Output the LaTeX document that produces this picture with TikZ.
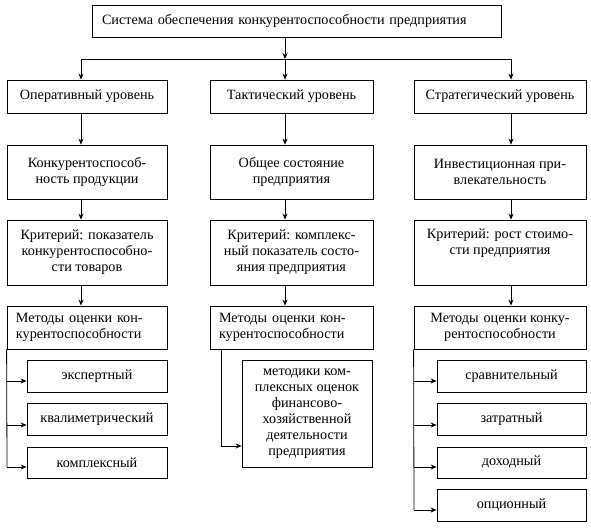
\documentclass[tikz,border=0pt]{standalone}
\usepackage{fontspec}
\setmainfont{Liberation Serif}
\usetikzlibrary{arrows.meta}
\begin{document}
\begin{tikzpicture}[x=1pt,y=-1pt,
  box/.style={draw,line width=0.8pt,inner sep=0pt,align=center,font=\rmfamily\fontsize{14.2}{16}\selectfont},
  arr/.style={line width=0.8pt,-{Stealth[length=6pt,width=5pt]}},
  ln/.style={line width=0.8pt}]
\useasboundingbox (0,0) rectangle (591,530);
% top
\node[box,minimum width=409pt,minimum height=32pt,align=left,text width=389pt,inner xsep=10pt] (top) at (296.5,21) {Система обеспечения конкурентоспособности предприятия};
% level row
\node[box,minimum width=160pt,minimum height=33pt] (op1) at (87,96.5) {Оперативный уровень};
\node[box,minimum width=163pt,minimum height=33pt] (ta1) at (291.5,96.5) {Тактический уровень};
\node[box,minimum width=172pt,minimum height=33pt] (st1) at (500,96.5) {Стратегический уровень};
% row 2
\node[box,minimum width=160pt,minimum height=54pt] (op2) at (87,172) {Конкурентоспособ-\\ность продукции};
\node[box,minimum width=163pt,minimum height=54pt] (ta2) at (291.5,172) {Общее состояние\\предприятия};
\node[box,minimum width=172pt,minimum height=54pt] (st2) at (500,172) {Инвестиционная при-\\влекательность};
% row 3
\node[box,minimum width=160pt,minimum height=65pt] (op3) at (87,252.5) {Критерий: показатель\\конкурентоспособно-\\сти товаров};
\node[box,minimum width=163pt,minimum height=65pt] (ta3) at (291.5,252.5) {Критерий: комплекс-\\ный показатель состо-\\яния предприятия};
\node[box,minimum width=172pt,minimum height=65pt] (st3) at (500,252.5) {Критерий: рост стоимо-\\сти предприятия\\\strut};
% row 4
\node[box,minimum width=160pt,minimum height=43pt,align=left,text width=142pt,inner xsep=9pt] (op4) at (87,327.5) {Методы\hspace{5pt}оценки кон-\\курентоспособности};
\node[box,minimum width=163pt,minimum height=43pt,align=left,text width=145pt,inner xsep=9pt] (ta4) at (291.5,327.5) {Методы\hspace{5pt}оценки кон-\\курентоспособности};
\node[box,minimum width=172pt,minimum height=43pt] (st4) at (500,327.5) {Методы\hspace{5pt}оценки конку-\\рентоспособности};
% left subs
\node[box,minimum width=140pt,minimum height=32pt] (e1) at (97,376) {экспертный};
\node[box,minimum width=140pt,minimum height=32pt] (e2) at (97,419) {квалиметрический};
\node[box,minimum width=140pt,minimum height=31pt] (e3) at (97,462.5) {комплексный};
% tactical sub
\node[box,minimum width=130pt,minimum height=107pt] (t1) at (307,413.5) {методики ком-\\плексных оценок\\финансово-\\хозяйственной\\деятельности\\предприятия};
% strategic subs
\node[box,minimum width=149pt,minimum height=32pt] (s1) at (511.5,376) {сравнительный};
\node[box,minimum width=149pt,minimum height=32pt] (s2) at (511.5,419) {затратный};
\node[box,minimum width=149pt,minimum height=31pt] (s3) at (511.5,462.5) {доходный};
\node[box,minimum width=149pt,minimum height=32pt] (s4) at (511.5,505) {опционный};
% coordinates
\coordinate (xo) at (81,59);
\coordinate (xt) at (285,59);
\coordinate (xs) at (511,59);
\coordinate (ae1) at (7,381);
\coordinate (ae2) at (7,425);
\coordinate (ae3) at (7,467);
\coordinate (at1) at (221,446);
\coordinate (as1) at (414,381);
\coordinate (as2) at (414,425);
\coordinate (as3) at (414,467);
\coordinate (as4) at (414,510);
% top connectors
\draw[arr] (top.south -| xt) -- (xt);
\draw[ln] (xo) -- (xs);
\draw[arr] (xo) -- (op1.north -| xo);
\draw[arr] (xt) -- (ta1.north -| xt);
\draw[arr] (xs) -- (st1.north -| xs);
% column arrows
\draw[arr] (op1.south -| xo) -- (op2.north -| xo);
\draw[arr] (op2.south -| xo) -- (op3.north -| xo);
\draw[arr] (op3.south -| xo) -- (op4.north -| xo);
\draw[arr] (ta1.south -| xt) -- (ta2.north -| xt);
\draw[arr] (ta2.south -| xt) -- (ta3.north -| xt);
\draw[arr] (ta3.south -| xt) -- (ta4.north -| xt);
\draw[arr] (st1.south -| xs) -- (st2.north -| xs);
\draw[arr] (st2.south -| xs) -- (st3.north -| xs);
\draw[arr] (st3.south -| xs) -- (st4.north -| xs);
% left sub connectors
\draw[ln] (op4.south west) -- (ae3);
\draw[arr] (ae1) -- (ae1 -| e1.west);
\draw[arr] (ae2) -- (ae2 -| e2.west);
\draw[arr] (ae3) -- (ae3 -| e3.west);
% tactical sub connector
\draw[arr] (ta4.south -| at1) -- (at1) -- (at1 -| t1.west);
% strategic sub connectors
\draw[ln] (st4.south west) -- (as4);
\draw[arr] (as1) -- (as1 -| s1.west);
\draw[arr] (as2) -- (as2 -| s2.west);
\draw[arr] (as3) -- (as3 -| s3.west);
\draw[arr] (as4) -- (as4 -| s4.west);
\end{tikzpicture}
\end{document}
